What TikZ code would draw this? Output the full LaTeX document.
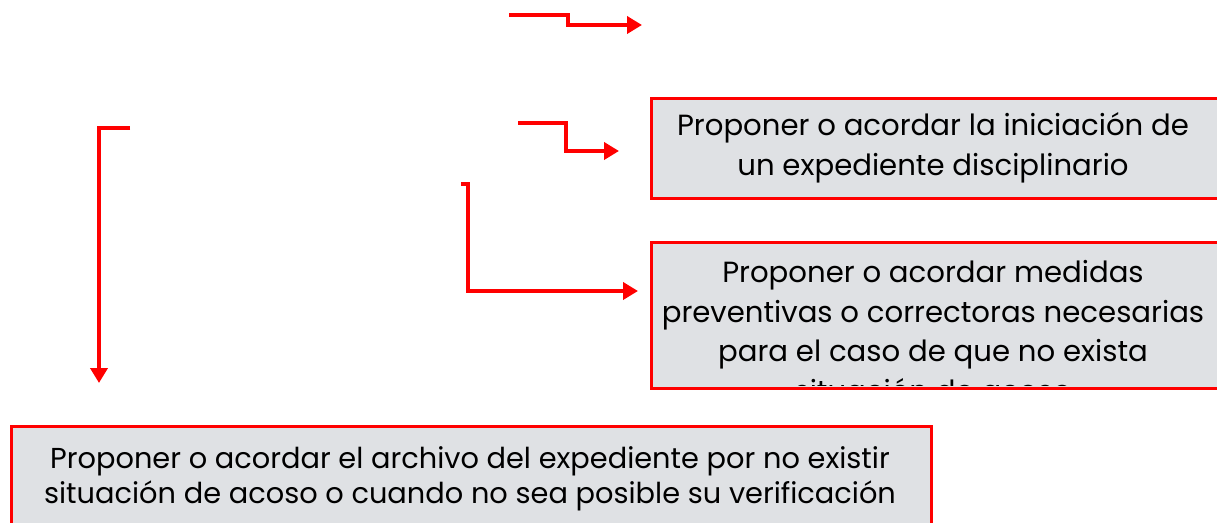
\documentclass[tikz,border=0pt]{standalone}
\usepackage{fontspec}
\setmainfont{Poppins}
\usetikzlibrary{arrows.meta}
\definecolor{boxfill}{HTML}{DFE1E4}
\definecolor{linered}{HTML}{FF0000}
\begin{document}
\begin{tikzpicture}[x=0.02cm,y=-0.02cm,
  conn/.style={draw=linered,line width=2.2pt,-{Triangle[length=0.3cm,width=0.34cm]}},
  box/.style={draw=linered,line width=1.6pt,fill=boxfill,inner sep=0pt},
  txt/.style={align=center,font=\fontsize{16.6}{22.7}\selectfont,text=black}]
\useasboundingbox (0,0) rectangle (1217,523);
% boxes
\node[box,minimum width=567*0.02cm,minimum height=100*0.02cm,anchor=north west] (b1) at (650,97) {};
\node[txt] (t1) at (933,148) {Proponer o acordar la iniciación de\\un expediente disciplinario};
\node[box,minimum width=567*0.02cm,minimum height=146*0.02cm,anchor=north west] (b2) at (650,241) {};
\begin{scope}
\clip (651,242) rectangle (1216,386);
\node[txt] (t2) at (933,331) {Proponer o acordar medidas\\preventivas o correctoras necesarias\\para el caso de que no exista\\situación de acoso};
\end{scope}
\node[box,minimum width=920*0.02cm,minimum height=110*0.02cm,anchor=north west] (b3) at (10,425) {};
\node[txt,font=\fontsize{16.4}{19.8}\selectfont] (t3) at (470,479) {Proponer o acordar el archivo del expediente por no existir\\situación de acoso o cuando no sea posible su verificación};
% connectors
\coordinate (a1s) at (509,15);
\coordinate (a1e) at (642,25);
\draw[conn] (a1s) -- (568,15) -- (568,25) -- (a1e);
\coordinate (a2s) at (518,123);
\coordinate (a2e) at (619,151);
\draw[conn] (a2s) -- (566,123) -- (566,151) -- (a2e);
\coordinate (a3s) at (461,184);
\coordinate (a3e) at (638,291);
\draw[conn] (a3s) -- (468,184) -- (468,291) -- (a3e);
\coordinate (a4s) at (130,128);
\coordinate (a4e) at (99,383);
\draw[conn] (a4s) -- (99,128) -- (a4e);
\end{tikzpicture}
\end{document}
